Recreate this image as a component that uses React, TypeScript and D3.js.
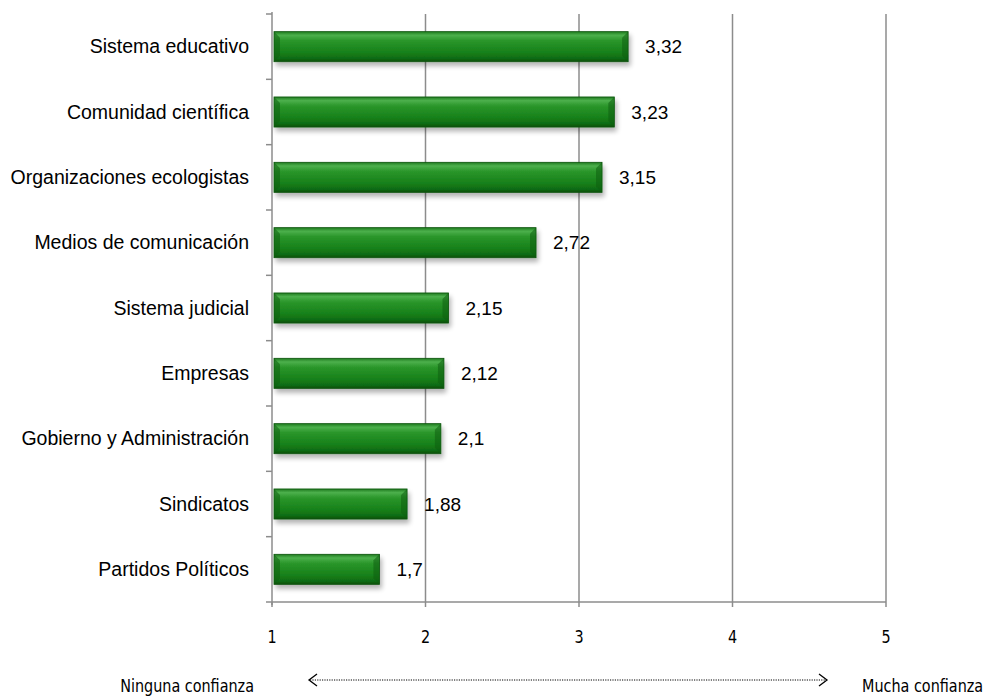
import React from "react";
import * as d3 from "d3";

const categories = [
  "Sistema educativo",
  "Comunidad científica",
  "Organizaciones ecologistas",
  "Medios de comunicación",
  "Sistema judicial",
  "Empresas",
  "Gobierno y Administración",
  "Sindicatos",
  "Partidos Políticos",
];
const values = [3.32, 3.23, 3.15, 2.72, 2.15, 2.12, 2.1, 1.88, 1.7];
const valueLabels = ["3,32", "3,23", "3,15", "2,72", "2,15", "2,12", "2,1", "1,88", "1,7"];
const xTicks = [1, 2, 3, 4, 5];

export default function App() {
  const W = 996, H = 697;
  const left = 272, right = 886, top = 14, bottom = 602;
  const x = d3.scaleLinear().domain([1, 5]).range([left, right]);
  const y = d3.scaleBand<string>().domain(categories).range([top, bottom]).paddingInner(0.54).paddingOuter(0.27);
  const band = (bottom - top) / categories.length;
  const boundaries = d3.range(categories.length + 1).map((i) => top + i * band);
  const font = "'Liberation Sans', Arial, sans-serif";
  const narrow = "'Liberation Sans Narrow', 'Arial Narrow', 'DejaVu Sans Condensed', sans-serif";
  return (
    <svg width={W} height={H} style={{ position: "absolute", left: 0, top: 0, background: "#fff" }}>
      <defs>
        <linearGradient id="barG" x1="0" y1="0" x2="0" y2="1">
          <stop offset="0" stopColor="#1e7a1e" />
          <stop offset="0.12" stopColor="#4cb04c" />
          <stop offset="0.3" stopColor="#2a962a" />
          <stop offset="0.7" stopColor="#17801a" />
          <stop offset="0.9" stopColor="#0f6a12" />
          <stop offset="1" stopColor="#0a4f0c" />
        </linearGradient>
        <filter id="sh" x="-5%" y="-30%" width="115%" height="190%">
          <feGaussianBlur in="SourceAlpha" stdDeviation="2.5" />
          <feOffset dx="2" dy="4" result="b" />
          <feComponentTransfer>
            <feFuncA type="linear" slope="0.3" />
          </feComponentTransfer>
          <feMerge>
            <feMergeNode />
            <feMergeNode in="SourceGraphic" />
          </feMerge>
        </filter>
      </defs>
      {xTicks.slice(1).map((t) => (
        <line key={t} x1={x(t)} x2={x(t)} y1={top} y2={bottom} stroke="#8c8c8c" strokeWidth={1.5} />
      ))}
      {categories.map((c, i) => {
        const by = y(c)!;
        const bh = y.bandwidth();
        const x0 = x(1) + 2;
        const x1 = x(values[i]);
        const bev = 6;
        return (
          <g key={c}>
            <g filter="url(#sh)">
              <rect x={x0} y={by} width={x1 - x0} height={bh} fill="url(#barG)" stroke="#0c540e" strokeWidth={0.8} />
            </g>
            <polygon points={`${x0},${by} ${x0 + bev},${by + bev} ${x0 + bev},${by + bh - bev} ${x0},${by + bh}`} fill="#0e5e10" opacity={0.55} />
            <polygon points={`${x1},${by} ${x1 - bev},${by + bev} ${x1 - bev},${by + bh - bev} ${x1},${by + bh}`} fill="#0e5e10" opacity={0.55} />
            <text x={249} y={by + bh / 2 + 6.5} textAnchor="end" fontFamily={font} fontSize={19.5} fill="#000">{c}</text>
            <text x={x1 + 17} y={by + bh / 2 + 6.5} fontFamily={font} fontSize={19} fill="#000">{valueLabels[i]}</text>
          </g>
        );
      })}
      <line x1={left} x2={left} y1={top - 2} y2={bottom + 3} stroke="#8c8c8c" strokeWidth={1.5} />
      {boundaries.map((b, i) => (
        <line key={i} x1={left - 6} x2={left} y1={b} y2={b} stroke="#8c8c8c" strokeWidth={1.5} />
      ))}
      <line x1={left} x2={right} y1={bottom} y2={bottom} stroke="#8c8c8c" strokeWidth={1.5} />
      {xTicks.map((t) => (
        <g key={t}>
          <line x1={x(t)} x2={x(t)} y1={bottom} y2={bottom + 5} stroke="#8c8c8c" strokeWidth={1.5} />
          <text transform={`translate(${x(t)},643) scale(1,1.15)`} textAnchor="middle" fontFamily={narrow} fontSize={16} fill="#000">{t}</text>
        </g>
      ))}
      <line x1={310} x2={826} y1={680} y2={680} stroke="#000" strokeWidth={1} strokeDasharray="1.2,1.2" />
      <polyline points="317,674 309,680 317,686" fill="none" stroke="#000" strokeWidth={1.3} />
      <polyline points="819,674 827,680 819,686" fill="none" stroke="#000" strokeWidth={1.3} />
      <text transform="translate(254,692) scale(1,1.15)" textAnchor="end" fontFamily={narrow} fontSize={16} fill="#000">Ninguna confianza</text>
      <text transform="translate(862,692) scale(1,1.15)" textAnchor="start" fontFamily={narrow} fontSize={16} fill="#000">Mucha confianza</text>
    </svg>
  );
}
